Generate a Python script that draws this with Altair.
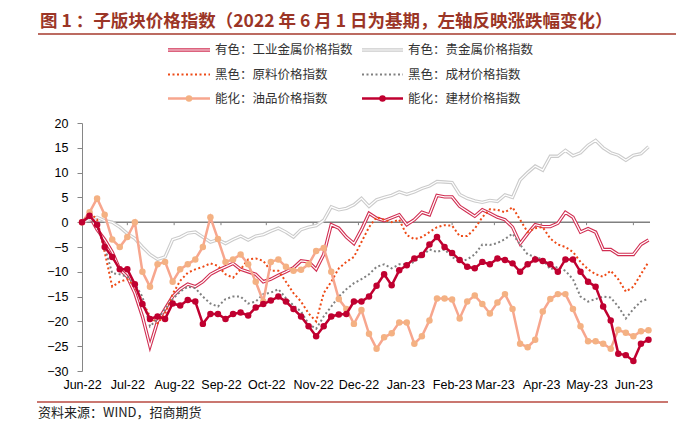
import altair as alt
import pandas as pd

# ---------------- data ----------------
dates = pd.date_range("2022-06-01", periods=76, freq="5D")

ind_metal = [0, 1.2, -1.5, -3.5, -6, -9.5, -11, -14.3, -19, -25, -20, -17.5, -15, -13.5, -12.5,
             -13, -12, -10.5, -9.7, -9, -8.3, -9.5, -10, -10.5, -12, -11.5, -10.7, -10, -9.2, -7.8,
             -8, -9.5, -6.5, -0.5, -1.2, -3, -4.3, -1.5, 1.8, 0.8, 0.3, 0.9, 1.5, -0.5, 0.5,
             2, 1.5, 5.4, 5.1, 5.1, 3.2, 2.2, 1.2, 2.5, 1.8, 1, 0.5, -1, -4.3, -2.3,
             -0.5, -0.9, -0.9, -0.2, 2, 1, -2, -1.3, -2, -5.5, -5.5, -6.5, -6.5, -6.5, -4.5, -3.6]
prec_metal = [0, 0.5, 1, 0.3, 0, -1, -2.3, -3.3, -5, -6.5, -7.5, -7, -3.5, -3, -2.2,
              -2, -3, -4, -3.5, -4.3, -3.5, -2.8, -3.6, -2.8, -2.5, -1.8, -1.2, -2, -3, -1.5,
              -1, -0.7, 0.4, 3.1, 2.5, 2.8, 3.5, 4.8, 3.2, 4.5, 5, 5.4, 6.1, 5.6, 6.1,
              6.8, 7.3, 8.2, 8.1, 8, 5.6, 4.8, 4.3, 4, 4.4, 4.2, 5.5, 5, 8.5, 10,
              11.3, 10.5, 13.3, 13.3, 14.5, 13.4, 14, 15.5, 16.5, 15, 14, 13.5, 12.5, 13.5, 13.8, 15.2]
raw_mat = [0, 2, 0.5, -6, -13, -12, -11.5, -13, -16, -19, -20.4, -18.5, -14.5, -11.8, -10.2,
           -9.5, -9, -8.3, -8.8, -10.5, -11.2, -9.5, -7.5, -7.3, -7.8, -9.8, -9.8, -12, -14.3, -16,
           -18.4, -20, -14.3, -12, -9.3, -8, -7, -4, -1, 1, 0.5, 0, 0.5, -2.6, -3.4,
           -3, -2, -1, -0.6, -0.7, -2.8, -2.8, -1.3, 1, 2.6, 2.5, 2, 3, 0.5, -2,
           -1.2, -1, -3.3, -4.5, -5, -6, -8, -9.5, -10.5, -11, -9.8, -11.5, -14, -13, -10.5, -8]
steel = [0, 1, -1, -5, -10.3, -10.5, -11, -12.5, -15, -21, -19.5, -17.5, -15.5, -14, -13,
         -13.3, -15, -16.4, -17, -15.5, -15, -15, -16.4, -16, -14.5, -14.2, -13.5, -15.3, -16.8, -18,
         -20.5, -21.5, -19, -17, -15, -13.5, -12.3, -11.5, -10.5, -9, -8.5, -9.3, -8.5, -8.5, -8,
         -6.8, -5.5, -6, -5.5, -7, -8, -7.5, -6.5, -4.5, -4.6, -4.2, -3.4, -2.3, -4.5, -6.5,
         -7, -7.5, -9.5, -9, -9.8, -11.5, -15, -16, -15.5, -15, -15.2, -17, -19.4, -17.5, -16, -15.4]
oil = [0, 2, 4.8, 1.5, -3.5, -5, -3, 0, -10, -13, -8.5, -8, -12, -9.5, -8.5,
       -7.5, -5, 1, -3.4, -8, -7.5, -6.5, -8.5, -12, -16, -8, -7.5, -9, -9.8, -9.6,
       -8.5, -5.8, -5.2, -10, -15.5, -17.5, -20.5, -17.7, -22.5, -25.5, -23.2, -22.4, -20.2, -20.2, -24.5,
       -23, -19.8, -15.4, -15.4, -15.6, -19.4, -16, -14.8, -16.5, -18.4, -16.2, -14.5, -17.5, -24.5, -25.2,
       -23.7, -18, -15.5, -14.5, -14.5, -17.5, -21, -24, -24, -24.5, -25.5, -21.7, -22.3, -23, -22, -21.8]
build_mat = [0, 1.3, -0.5, -5, -7, -9.5, -9.5, -12.5, -16.5, -19.5, -19, -19.5, -16.4, -16.8, -15.7,
             -16, -20.5, -18.5, -18.5, -19.5, -18.5, -18.2, -18.8, -17.2, -16.5, -15.8, -15, -16, -17.5, -19,
             -21, -23, -21, -19, -18.6, -18.5, -16, -16, -15, -12.8, -10.5, -12.7, -9.7, -8.7, -7.3,
             -6.6, -4.5, -3, -5, -6.2, -7.6, -9, -9.3, -8, -8.5, -7.3, -7.6, -8.3, -10, -8.5,
             -7.5, -7.8, -8.5, -10, -7.5, -7.5, -10, -12, -13, -17, -19.8, -26.5, -26.8, -28, -24.5, -23.7]

series_names = ["有色：工业金属价格指数", "有色：贵金属价格指数", "黑色：原料价格指数",
                "黑色：成材价格指数", "能化：油品价格指数", "能化：建材价格指数"]
y_ticks = [-30, -25, -20, -15, -10, -5, 0, 5, 10, 15, 20]
title_text = "图 1 ：子版块价格指数（2022 年 6 月 1 日为基期，左轴反映涨跌幅变化）"
source_text = "资料来源：WIND，招商期货"

# ---------------- styles ----------------
W, H = 568, 248
C_IND = "#d12e52"
C_PREC = "#cbcbcb"
C_RAW = "#ee4a16"
C_STEEL = "#808080"
C_OIL_LINE = "#f7a68e"
C_OIL_PT = "#f4b183"
C_BUILD = "#c00030"
FONT_CJK = "Noto Sans CJK SC"
FONT_NUM = "Liberation Sans"

month_dts = [alt.DateTime(year=d.year, month=d.month, date=1)
             for d in pd.date_range("2022-06-01", "2023-06-01", freq="MS")]
month_starts = pd.date_range("2022-06-01", "2023-06-01", freq="MS")

x_scale = alt.Scale(domain=[alt.DateTime(year=2022, month=6, date=1),
                            alt.DateTime(year=2023, month=6, date=12)])
y_scale = alt.Scale(domain=[-30, 20], nice=False, zero=False)

X = alt.X("date:T", scale=x_scale,
          axis=alt.Axis(values=month_dts, format="%b-%y", labelAngle=0, domain=False,
                        ticks=False, grid=False, labelFontSize=12.5, labelFont=FONT_NUM,
                        labelColor="#000000", labelPadding=7, title=None,
                        labelFlush=False, labelOverlap=False))
Y = alt.Y("v:Q", scale=y_scale,
          axis=alt.Axis(values=y_ticks, domain=True, domainColor="#868686", ticks=True,
                        tickColor="#868686", tickSize=5, grid=False, labelFontSize=12.5,
                        labelFont=FONT_NUM, labelColor="#000000", labelPadding=9, title=None))


def sdf(vals):
    return pd.DataFrame({"date": dates, "v": vals})


one = pd.DataFrame({"a": [0]})
layers = []

# invisible frame that pins the page layout
layers.append(alt.Chart(one).mark_rect(opacity=0).encode(
    x=alt.value(-74), x2=alt.value(600), y=alt.value(-115), y2=alt.value(296)))

# zero line with month ticks
layers.append(alt.Chart(pd.DataFrame({"v": [0]})).mark_rule(color="#808080", strokeWidth=1.5)
              .encode(y=Y))
layers.append(alt.Chart(pd.DataFrame({"date": month_starts, "v": [0] * len(month_starts),
                                      "v2": [-0.6] * len(month_starts)}))
              .mark_rule(color="#808080", strokeWidth=1).encode(x=X, y=Y, y2="v2"))

# series
layers.append(alt.Chart(sdf(ind_metal)).mark_line(color=C_IND, strokeWidth=3.4).encode(x=X, y=Y))
layers.append(alt.Chart(sdf(ind_metal)).mark_line(color="white", strokeWidth=1.2).encode(x=X, y=Y))
layers.append(alt.Chart(sdf(prec_metal)).mark_line(color=C_PREC, strokeWidth=3.4).encode(x=X, y=Y))
layers.append(alt.Chart(sdf(prec_metal)).mark_line(color="white", strokeWidth=1.2).encode(x=X, y=Y))
layers.append(alt.Chart(sdf(raw_mat)).mark_line(color=C_RAW, strokeWidth=2, strokeDash=[2, 2.5])
              .encode(x=X, y=Y))
layers.append(alt.Chart(sdf(steel)).mark_line(color=C_STEEL, strokeWidth=2, strokeDash=[2, 2.5])
              .encode(x=X, y=Y))
layers.append(alt.Chart(sdf(oil)).mark_line(color=C_OIL_LINE, strokeWidth=2.5).encode(x=X, y=Y))
layers.append(alt.Chart(sdf(oil)).mark_circle(color=C_OIL_PT, size=42, opacity=1).encode(x=X, y=Y))
layers.append(alt.Chart(sdf(build_mat)).mark_line(color=C_BUILD, strokeWidth=2.5).encode(x=X, y=Y))
layers.append(alt.Chart(sdf(build_mat)).mark_circle(color=C_BUILD, size=42, opacity=1).encode(x=X, y=Y))

# legend (3 rows x 2 columns above the plot)
leg_sym_x = [(86, 128), (280, 321)]
leg_txt_x = [133, 326]
leg_row_y = [-73, -48.5, -24.5]
for i, name in enumerate(series_names):
    c, r = i % 2, i // 2
    x0, x1 = leg_sym_x[c]
    ly = leg_row_y[r]
    pos = dict(x=alt.value(x0), x2=alt.value(x1), y=alt.value(ly))
    if i in (0, 1):
        col = C_IND if i == 0 else C_PREC
        layers.append(alt.Chart(one).mark_rule(color=col, strokeWidth=3.4).encode(**pos))
        layers.append(alt.Chart(one).mark_rule(color="white", strokeWidth=1.2).encode(**pos))
    elif i in (2, 3):
        col = C_RAW if i == 2 else C_STEEL
        layers.append(alt.Chart(one).mark_rule(color=col, strokeWidth=2, strokeDash=[2, 2.5])
                      .encode(**pos))
    else:
        lcol = C_OIL_LINE if i == 4 else C_BUILD
        pcol = C_OIL_PT if i == 4 else C_BUILD
        layers.append(alt.Chart(one).mark_rule(color=lcol, strokeWidth=2.5).encode(**pos))
        layers.append(alt.Chart(one).mark_circle(color=pcol, size=42, opacity=1).encode(
            x=alt.value((x0 + x1) / 2), y=alt.value(ly)))
    layers.append(alt.Chart(one).mark_text(align="left", baseline="middle", fontSize=12.5,
                                           font=FONT_CJK, color="#333333")
                  .encode(x=alt.value(leg_txt_x[c]), y=alt.value(ly), text=alt.value(name)))

# title, rules and source note
layers.append(alt.Chart(one).mark_text(align="left", baseline="middle", fontSize=17.5,
                                       fontWeight="bold", font=FONT_CJK, color="#9b3526")
              .encode(x=alt.value(-42), y=alt.value(-101), text=alt.value(title_text)))
layers.append(alt.Chart(one).mark_rule(color="#a63a2c", strokeWidth=1.5).encode(
    x=alt.value(-44), x2=alt.value(594), y=alt.value(-89)))
layers.append(alt.Chart(one).mark_rule(color="#b84a40", strokeWidth=1.5).encode(
    x=alt.value(-45), x2=alt.value(586), y=alt.value(279)))
layers.append(alt.Chart(one).mark_text(align="left", baseline="middle", fontSize=13,
                                       font=FONT_CJK, color="#222222")
              .encode(x=alt.value(-44), y=alt.value(290), text=alt.value(source_text)))

chart = (alt.layer(*layers)
         .properties(width=W, height=H, padding=0, background="white")
         .configure_view(stroke=None))

chart.save("out.html", embed_options={"renderer": "svg", "actions": False})
